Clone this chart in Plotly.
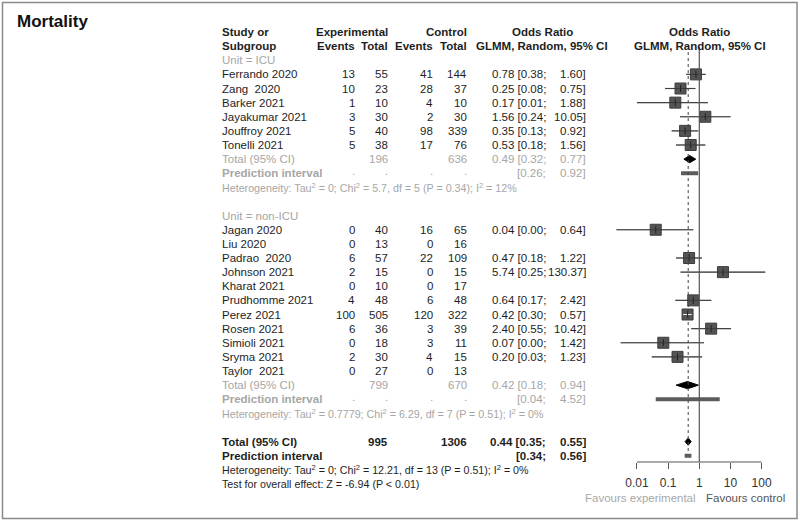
import math
import plotly.graph_objects as go

# ---------------- data ----------------
icu_studies = ["Ferrando 2020", "Zang  2020", "Barker 2021", "Jayakumar 2021", "Jouffroy 2021", "Tonelli 2021"]
icu_exp_events = [13, 10, 1, 3, 5, 5]
icu_exp_total = [55, 23, 10, 30, 40, 38]
icu_ctl_events = [41, 28, 4, 2, 98, 17]
icu_ctl_total = [144, 37, 10, 30, 339, 76]
icu_or = [0.78, 0.25, 0.17, 1.56, 0.35, 0.53]
icu_lo = [0.38, 0.08, 0.01, 0.24, 0.13, 0.18]
icu_hi = [1.60, 0.75, 1.88, 10.05, 0.92, 1.56]

non_studies = ["Jagan 2020", "Liu 2020", "Padrao  2020", "Johnson 2021", "Kharat 2021", "Prudhomme 2021",
               "Perez 2021", "Rosen 2021", "Simioli 2021", "Sryma 2021", "Taylor  2021"]
non_exp_events = [0, 0, 6, 2, 0, 4, 100, 6, 0, 2, 0]
non_exp_total = [40, 13, 57, 15, 10, 48, 505, 36, 18, 30, 27]
non_ctl_events = [16, 0, 22, 0, 0, 6, 120, 3, 3, 4, 0]
non_ctl_total = [65, 16, 109, 15, 17, 48, 322, 39, 11, 15, 13]
non_or = [0.04, None, 0.47, 5.74, None, 0.64, 0.42, 2.40, 0.07, 0.20, None]
non_lo = [0.0022, None, 0.18, 0.25, None, 0.17, 0.30, 0.55, 0.003, 0.03, None]
non_hi = [0.64, None, 1.22, 130.37, None, 2.42, 0.57, 10.42, 1.42, 1.23, None]

icu_total = dict(exp=196, ctl=636, est=0.49, lo=0.32, hi=0.77, pi_lo=0.26, pi_hi=0.92,
                 het="Heterogeneity: Tau<sup>2</sup> = 0; Chi<sup>2</sup> = 5.7, df = 5 (P = 0.34); I<sup>2</sup> = 12%")
non_total = dict(exp=799, ctl=670, est=0.42, lo=0.18, hi=0.94, pi_lo=0.04, pi_hi=4.52,
                 het="Heterogeneity: Tau<sup>2</sup> = 0.7779; Chi<sup>2</sup> = 6.29, df = 7 (P = 0.51); I<sup>2</sup> = 0%")
overall = dict(exp=995, ctl=1306, est=0.44, lo=0.35, hi=0.55, pi_lo=0.34, pi_hi=0.56,
               het="Heterogeneity: Tau<sup>2</sup> = 0; Chi<sup>2</sup> = 12.21, df = 13 (P = 0.51); I<sup>2</sup> = 0%",
               test="Test for overall effect: Z = -6.94 (P < 0.01)")

tick_vals = [0.01, 0.1, 1, 10, 100]
tick_text = ["0.01", "0.1", "1", "10", "100"]

# ---------------- layout helpers ----------------
W, H = 800, 521
ROW0, ROWH = 32.0, 14.125           # pixel y of row 0, row height
FONT = "Liberation Sans, Arial, sans-serif"
FS = 11.5
SMALL = 10.7
DARK = "#1e1e1e"
GRAY = "#a6a6a6"

X_NAME, X_EE, X_ET, X_CE, X_CT, X_OR1, X_OR2 = 220, 357, 390, 435, 469, 548, 588
X1PX, DEC = 699.3, 31.17
DOM0, DOM1 = 600, 795

def px(x):
    return x / W

annotations = []

def txt(x, r, s, align="left", color=DARK, size=FS, bold=False):
    if bold:
        s = "<b>" + s + "</b>"
    annotations.append(dict(x=px(x), y=r, xref="paper", yref="y", text=s, showarrow=False,
                            xanchor=align, yanchor="middle", align=align,
                            font=dict(family=FONT, size=size, color=color)))

def f2(v):
    return f"{v:.2f}"

# ---------------- header ----------------
txt(220, 0, "Study or", bold=True)
txt(220, 1, "Subgroup", bold=True)
txt(X_ET, 0, "Experimental", "right", bold=True)
txt(X_EE, 1, "Events", "right", bold=True)
txt(X_ET, 1, "Total", "right", bold=True)
txt(X_CT, 0, "Control", "right", bold=True)
txt(X_CE, 1, "Events", "right", bold=True)
txt(X_CT, 1, "Total", "right", bold=True)
txt(542, 0, "Odds Ratio", "center", bold=True)
txt(542, 1, "GLMM, Random, 95% CI", "center", bold=True)
txt(699.5, 0, "Odds Ratio", "center", bold=True)
txt(699.5, 1, "GLMM, Random, 95% CI", "center", bold=True)

annotations.append(dict(x=px(15), y=1 - 22 / H, xref="paper", yref="paper", text="<b>Mortality</b>",
                        showarrow=False, xanchor="left", yanchor="middle",
                        font=dict(family=FONT, size=17, color="#111")))

# ---------------- rows ----------------
sq_x, sq_y = [], []
ci_x, ci_y = [], []
ci_in_x, ci_in_y = [], []
diamonds = []
pis = []

SQ = 11  # square size in px
half_dec = (SQ / 2) / DEC

def study_rows(start, names, ee, et, ce, ct, est, lo, hi):
    for i, n in enumerate(names):
        r = start + i
        txt(X_NAME, r, n)
        txt(X_EE, r, str(ee[i]), "right")
        txt(X_ET, r, str(et[i]), "right")
        txt(X_CE, r, str(ce[i]), "right")
        txt(X_CT, r, str(ct[i]), "right")
        if est[i] is not None:
            txt(X_OR1, r, f"{f2(est[i])} [{f2(lo[i])};", "right")
            txt(X_OR2, r, f"{f2(hi[i])}]", "right")
            sq_x.append(est[i]); sq_y.append(r)
            le = math.log10(est[i])
            inside = (le - math.log10(lo[i]) < half_dec) and (math.log10(hi[i]) - le < half_dec)
            if inside:
                ci_in_x.extend([lo[i], hi[i], None]); ci_in_y.extend([r, r, None])
            else:
                ci_x.extend([lo[i], hi[i], None]); ci_y.extend([r, r, None])

def summary_rows(start, tot, label_color, bold_total, dots):
    r = start
    txt(X_NAME, r, "Total (95% CI)", color=label_color, bold=bold_total)
    txt(X_ET, r, str(tot["exp"]), "right", color=label_color, bold=bold_total)
    txt(X_CT, r, str(tot["ctl"]), "right", color=label_color, bold=bold_total)
    txt(X_OR1, r, f"{f2(tot['est'])} [{f2(tot['lo'])};", "right", color=label_color, bold=bold_total)
    txt(X_OR2, r, f"{f2(tot['hi'])}]", "right", color=label_color, bold=bold_total)
    diamonds.append((tot["lo"], tot["est"], tot["hi"], r))
    r += 1
    txt(X_NAME, r, "Prediction interval", color=label_color, bold=True)
    if dots:
        for xx in (X_EE, X_ET, X_CE, X_CT):
            txt(xx, r - 0.15, ".", "right", color=label_color)
    txt(X_OR1, r, f"[{f2(tot['pi_lo'])};", "right", color=label_color, bold=bold_total)
    txt(X_OR2, r, f"{f2(tot['pi_hi'])}]", "right", color=label_color, bold=bold_total)
    pis.append((tot["pi_lo"], tot["pi_hi"], r))
    r += 1
    txt(X_NAME, r, tot["het"], color=label_color, size=SMALL)
    return r

r = 2
txt(X_NAME, r, "Unit = ICU", color=GRAY)
r += 1
study_rows(r, icu_studies, icu_exp_events, icu_exp_total, icu_ctl_events, icu_ctl_total, icu_or, icu_lo, icu_hi)
r += len(icu_studies)
r = summary_rows(r, icu_total, GRAY, False, True)
r += 2
txt(X_NAME, r, "Unit = non-ICU", color=GRAY)
r += 1
study_rows(r, non_studies, non_exp_events, non_exp_total, non_ctl_events, non_ctl_total, non_or, non_lo, non_hi)
r += len(non_studies)
r = summary_rows(r, non_total, GRAY, False, True)
r += 2
r = summary_rows(r, overall, DARK, True, False)
r += 1
txt(X_NAME, r, overall["test"], size=SMALL)

# ---------------- forest traces ----------------
fig = go.Figure()
fig.add_trace(go.Scatter(x=ci_x, y=ci_y, mode="lines", line=dict(color="#6e6e6e", width=1.2),
                         hoverinfo="skip", showlegend=False))
fig.add_trace(go.Scatter(x=sq_x, y=sq_y, mode="markers",
                         marker=dict(symbol="square", size=SQ, color="#545454",
                                     line=dict(color="#3c3c3c", width=1)),
                         hoverinfo="skip", showlegend=False))
fig.add_trace(go.Scatter(x=ci_x, y=ci_y, mode="lines", line=dict(color="#333333", width=0.8),
                         hoverinfo="skip", showlegend=False))
fig.add_trace(go.Scatter(x=ci_in_x, y=ci_in_y, mode="lines", line=dict(color="#f0f0f0", width=1),
                         hoverinfo="skip", showlegend=False))
fig.add_trace(go.Scatter(x=sq_x, y=sq_y, mode="markers",
                         marker=dict(symbol="line-ns", size=5, line=dict(color="#222", width=1)),
                         hoverinfo="skip", showlegend=False))
hh = 3.6 / ROWH
for lo, est, hi, rr in diamonds:
    fig.add_trace(go.Scatter(x=[lo, est, hi, est, lo], y=[rr, rr - hh, rr, rr + hh, rr],
                             mode="lines", fill="toself", fillcolor="#000", line=dict(color="#000", width=1),
                             hoverinfo="skip", showlegend=False))
for lo, hi, rr in pis:
    fig.add_trace(go.Scatter(x=[lo, hi], y=[rr, rr], mode="lines", line=dict(color="#5c5c5c", width=4),
                             hoverinfo="skip", showlegend=False))

axis_y_px = 462
axis_pos = 1 - axis_y_px / H
shapes = [
    dict(type="rect", xref="paper", yref="paper", x0=2.5 / W, x1=797 / W, y0=1 - 518.5 / H, y1=1 - 2.5 / H,
         line=dict(color="#8a8a8a", width=1.5), fillcolor="rgba(0,0,0,0)"),
    dict(type="line", xref="x", yref="paper", x0=1, x1=1, y0=axis_pos, y1=1 - 47 / H,
         line=dict(color="#555", width=1.2)),
    dict(type="line", xref="x", yref="paper", x0=overall["est"], x1=overall["est"],
         y0=1 - 451 / H, y1=1 - 48 / H, line=dict(color="#444", width=1, dash="dot")),
    dict(type="line", xref="x", yref="paper", x0=tick_vals[0], x1=tick_vals[-1], y0=axis_pos, y1=axis_pos,
         line=dict(color="#555", width=1)),
]

fav_row = (498 - ROW0) / ROWH
annotations.append(dict(x=math.log10(0.93), y=fav_row, xref="x", yref="y", text="Favours experimental",
                        showarrow=False, xanchor="right", yanchor="middle",
                        font=dict(family=FONT, size=FS, color="#a8a8a8")))
annotations.append(dict(x=math.log10(1.4), y=fav_row, xref="x", yref="y", text="Favours control",
                        showarrow=False, xanchor="left", yanchor="middle",
                        font=dict(family=FONT, size=FS, color="#555")))

a = (DOM0 - X1PX) / DEC
b = (DOM1 - X1PX) / DEC
ymin = -ROW0 / ROWH
ymax = ymin + H / ROWH

fig.update_layout(
    width=W, height=H, margin=dict(l=0, r=0, t=0, b=0),
    paper_bgcolor="white", plot_bgcolor="rgba(0,0,0,0)",
    xaxis=dict(type="log", domain=[DOM0 / W, DOM1 / W], range=[a, b], anchor="free", position=axis_pos,
               showgrid=False, zeroline=False, showline=False, automargin=False,
               tickvals=tick_vals, ticktext=tick_text, ticks="outside", ticklen=6, tickwidth=1,
               tickcolor="#555", ticklabelstandoff=4,
               tickfont=dict(family=FONT, size=12, color="#333")),
    yaxis=dict(range=[ymax, ymin], domain=[0, 1], visible=False, showgrid=False, zeroline=False,
               automargin=False),
    shapes=shapes, annotations=annotations,
    font=dict(family=FONT), showlegend=False,
)

fig.write_html("out.html", config={"displayModeBar": False},
               post_script="document.body.style.margin='0';document.body.style.padding='0';")
